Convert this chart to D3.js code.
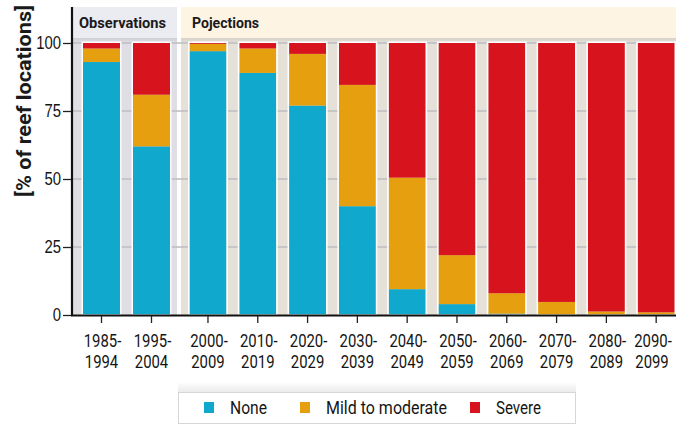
<!DOCTYPE html>
<html>
<head>
<meta charset="utf-8">
<script src="https://cdn.jsdelivr.net/npm/d3@7"></script>
<style>
  body { margin: 0; background: #fff; }
  svg { display: block; font-family: Roboto, "Noto Sans", sans-serif; }
</style>
</head>
<body>
<svg></svg>
<script>
const width = 676;
const height = 425;

// Données
const obsPeriods = ["1985-1994", "1995-2004"];
const projPeriods = ["2000-2009", "2010-2019", "2020-2029", "2030-2039", "2040-2049",
  "2050-2059", "2060-2069", "2070-2079", "2080-2089", "2090-2099"];
const periods = obsPeriods.concat(projPeriods);
const none   = [93, 62, 97, 89, 77, 40, 9.5, 4, 0.5, 0, 0, 0];
const mild   = [5, 19, 2.7, 9, 19, 44.6, 41, 18, 7.5, 4.8, 1.3, 1];
const severe = [2, 19, 0.3, 2, 4, 15.4, 49.5, 78, 92, 95.2, 98.7, 99];
const keys = ["None", "Mild to moderate", "Severe"];
const colors = ["#11a8cd", "#e69f0e", "#d7141d"];
const yTicks = [0, 25, 50, 75, 100];
const panels = ["Observations", "Pojections"];

const svg = d3.select("svg")
  .attr("width", width)
  .attr("height", height);

// resserrer le texte (police condensée absente)
function squeeze(sel, k) {
  sel.each(function() {
    const w = this.getComputedTextLength();
    d3.select(this).attr("textLength", w * k).attr("lengthAdjust", "spacingAndGlyphs");
  });
}
function fitTo(sel, w) {
  sel.attr("textLength", w).attr("lengthAdjust", "spacingAndGlyphs");
}

const rows = periods.map((p, i) => ({ period: p, "None": none[i], "Mild to moderate": mild[i], "Severe": severe[i] }));
const series = d3.stack().keys(keys)(rows);

// Echelles
const xObs = d3.scaleBand().domain(obsPeriods).range([76.5, 176.5]).paddingInner(0.26).paddingOuter(0.13);
const xProj = d3.scaleBand().domain(projPeriods).range([183, 681]).paddingInner(0.26).paddingOuter(0.13);
const xOf = p => obsPeriods.includes(p) ? xObs(p) : xProj(p);
const bw = xObs.bandwidth();
// position des libellés (le dernier reste dans le cadre)
const labelX = p => Math.min(xOf(p) + bw / 2, width - 24);

const y = d3.scaleLinear().domain([0, 100]).range([315, 43]);
const color = d3.scaleOrdinal().domain(keys).range(colors);

// Dégradés (ombres)
const defs = svg.append("defs");
const sh = defs.append("linearGradient").attr("id", "hdrShadow").attr("x1", 0).attr("x2", 0).attr("y1", 0).attr("y2", 1);
sh.append("stop").attr("offset", "0%").attr("stop-color", "#000").attr("stop-opacity", 0.07);
sh.append("stop").attr("offset", "100%").attr("stop-color", "#000").attr("stop-opacity", 0);
const lg = defs.append("linearGradient").attr("id", "legShadow").attr("x1", 0).attr("x2", 0).attr("y1", 0).attr("y2", 1);
lg.append("stop").attr("offset", "0%").attr("stop-color", "#000").attr("stop-opacity", 0);
lg.append("stop").attr("offset", "100%").attr("stop-color", "#000").attr("stop-opacity", 0.08);

// Panneaux
const panelBoxes = [
  { name: panels[0], x0: 73, x1: 177, head: "#ebebf2", body: "#dfdee5", tx: 79, tw: 87 },
  { name: panels[1], x0: 181, x1: width, head: "#fdf4e4", body: "#e6e1d8", tx: 192, tw: 67 }
];
panelBoxes.forEach(pb => {
  svg.append("rect").attr("x", pb.x0).attr("y", 7).attr("width", pb.x1 - pb.x0).attr("height", 308).attr("fill", pb.body);
  svg.append("rect").attr("x", pb.x0).attr("y", 7).attr("width", pb.x1 - pb.x0).attr("height", 31).attr("fill", pb.head);
  svg.append("rect").attr("x", pb.x0).attr("y", 38).attr("width", pb.x1 - pb.x0).attr("height", 5).attr("fill", "url(#hdrShadow)");
  svg.append("text")
    .attr("x", pb.tx)
    .attr("y", 28)
    .attr("font-size", 15)
    .attr("font-weight", "bold")
    .attr("fill", "#1a1a1a")
    .text(pb.name)
    .call(fitTo, pb.tw);
});

// Grille
svg.append("g")
  .selectAll("line")
  .data(yTicks.filter(d => d > 0))
  .join("line")
  .attr("x1", 73).attr("x2", width)
  .attr("y1", d => y(d)).attr("y2", d => y(d))
  .attr("stroke", "#bdbcc2")
  .attr("stroke-width", 1.5);

// Barres
svg.append("g")
  .selectAll("g")
  .data(series)
  .join("g")
  .attr("fill", d => color(d.key))
  .selectAll("rect")
  .data(d => d)
  .join("rect")
  .attr("x", d => xOf(d.data.period))
  .attr("y", d => y(d[1]))
  .attr("width", bw)
  .attr("height", d => y(d[0]) - y(d[1]));

// Contour blanc des barres
svg.append("g")
  .selectAll("rect")
  .data(periods)
  .join("rect")
  .attr("x", d => xOf(d) - 0.75)
  .attr("y", y(100) - 0.75)
  .attr("width", bw + 1.5)
  .attr("height", y(0) - y(100) + 0.75)
  .attr("fill", "none")
  .attr("stroke", "#fff")
  .attr("stroke-width", 1.5);

// Axe Y
const yAxis = svg.append("g")
  .attr("transform", "translate(72,0)")
  .call(d3.axisLeft(y).tickValues(yTicks).tickSize(9).tickPadding(2));
yAxis.select(".domain").remove();
yAxis.selectAll("line").attr("stroke", "#222").attr("stroke-width", 1.3);
yAxis.selectAll("text").attr("font-size", 17.5).attr("fill", "#151515").attr("font-family", null)
  .call(squeeze, 0.85);

svg.append("line")
  .attr("x1", 72).attr("x2", 72).attr("y1", 7).attr("y2", 316)
  .attr("stroke", "#111").attr("stroke-width", 2.2);

// Axe X
svg.append("line")
  .attr("x1", 71).attr("x2", width).attr("y1", 315.5).attr("y2", 315.5)
  .attr("stroke", "#111").attr("stroke-width", 2.2);

const xTicks = svg.append("g");
xTicks.selectAll("line")
  .data(periods)
  .join("line")
  .attr("x1", d => xOf(d) + bw / 2).attr("x2", d => xOf(d) + bw / 2)
  .attr("y1", 316).attr("y2", 323)
  .attr("stroke", "#222").attr("stroke-width", 1.3);

const xLabels = xTicks.selectAll("text")
  .data(periods)
  .join("text")
  .attr("text-anchor", "middle")
  .attr("font-size", 17.5)
  .attr("fill", "#151515");
xLabels.append("tspan")
  .attr("x", d => labelX(d) + 1)
  .attr("y", 347)
  .text(d => d.split("-")[0] + "-")
  .call(squeeze, 0.85);
xLabels.append("tspan")
  .attr("x", d => labelX(d))
  .attr("y", 368)
  .text(d => d.split("-")[1])
  .call(squeeze, 0.85);

// Titre axe Y
svg.append("text")
  .attr("transform", "translate(31,101) rotate(-90)")
  .attr("text-anchor", "middle")
  .attr("font-size", 21)
  .attr("font-weight", "bold")
  .attr("fill", "#1a1a1a")
  .text("[% of reef locations]")
  .call(fitTo, 192);

// Légende
svg.append("rect").attr("x", 178).attr("y", 382).attr("width", 398).attr("height", 10).attr("fill", "url(#legShadow)");
svg.append("rect")
  .attr("x", 178.5).attr("y", 392.5).attr("width", 397).attr("height", 31)
  .attr("fill", "#fff").attr("stroke", "#d6d6d6");

const legendX = [204, 300, 470];
const legendW = [37, 121, 45];
const legend = svg.append("g")
  .selectAll("g")
  .data(keys)
  .join("g")
  .attr("transform", (d, i) => `translate(${legendX[i]},0)`);
legend.append("rect")
  .attr("x", 0).attr("y", 402).attr("width", 10).attr("height", 11)
  .attr("fill", d => color(d));
legend.append("text")
  .attr("x", 26).attr("y", 414)
  .attr("font-size", 17.5)
  .attr("fill", "#151515")
  .text(d => d)
  .each(function(d, i) { d3.select(this).call(fitTo, legendW[i]); });
</script>
</body>
</html>
